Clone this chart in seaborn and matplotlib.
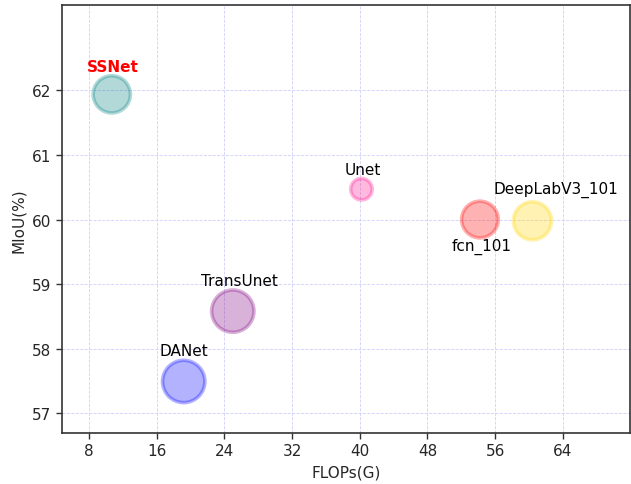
import numpy as np
import pandas as pd
import seaborn as sns
import matplotlib.pyplot as plt

# model results
models = ["SSNet", "Unet", "fcn_101", "DeepLabV3_101", "TransUnet", "DANet"]
flops  = [10.7, 40.2, 54.2, 60.4, 25.0, 19.2]
miou   = [61.94, 60.47, 60.00, 59.98, 58.58, 57.49]
sizes  = [720, 240, 700, 760, 930, 930]
colors = ["teal", "deeppink", "red", "gold", "purple", "blue"]

xticks = [8, 16, 24, 32, 40, 48, 56, 64]
yticks = [57, 58, 59, 60, 61, 62]

# label offsets (points) relative to each bubble
offsets = [(1, 20), (1, 14), (1, -19), (17, 23), (5, 22), (0, 22)]

df = pd.DataFrame({"model": models, "flops": flops, "miou": miou})

sns.set_style("white")
plt.rcParams["font.family"] = ["DejaVu Sans"]
fig, ax = plt.subplots(figsize=(6.31, 4.85), dpi=100)
fig.subplots_adjust(left=0.098, right=0.998, top=0.987, bottom=0.105)

sns.scatterplot(data=df, x="flops", y="miou", hue="model", size="model",
                palette=dict(zip(models, colors)), sizes=dict(zip(models, sizes)),
                alpha=0.3, linewidth=2.6, legend=False, ax=ax, zorder=3)
# edge in same colour as fill
for coll in ax.collections:
    coll.set_edgecolor(coll.get_facecolor())

for m, x, y, off in zip(models, flops, miou, offsets):
    if m == "SSNet":
        ax.annotate(m, (x, y), xytext=off, textcoords="offset points",
                    ha="center", va="center", fontsize=11, color="red",
                    fontweight="bold")
    else:
        ax.annotate(m, (x, y), xytext=off, textcoords="offset points",
                    ha="center", va="center", fontsize=11, color="black")

ax.set_xlim(4.8, 71.9)
ax.set_ylim(56.69, 63.32)
ax.set_xticks(xticks)
ax.set_yticks(yticks)
ax.tick_params(axis="both", labelsize=11, direction="out", length=4,
               width=1, left=True, bottom=True, color="#333333")
ax.grid(True, linestyle="--", color="#d0d0fa", linewidth=0.6)
ax.set_axisbelow(True)
for sp in ax.spines.values():
    sp.set_color("#333333")
    sp.set_linewidth(1.2)

ax.set_xlabel("FLOPs(G)", fontsize=11)
ax.set_ylabel("MIoU(%)", fontsize=11)

plt.savefig("out.png", dpi=100)
